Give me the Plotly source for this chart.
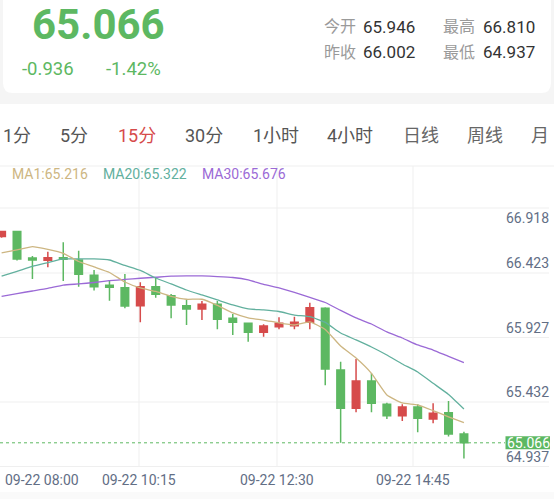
import plotly.graph_objects as go

W, H = 554, 499

# ---------------- data ----------------
times = ["08:00", "08:15", "08:30", "08:45", "09:00", "09:15", "09:30", "09:45",
         "10:00", "10:15", "10:30", "10:45", "11:00", "11:15", "11:30", "11:45",
         "12:00", "12:15", "12:30", "12:45", "13:00", "13:15", "13:30", "13:45",
         "14:00", "14:15", "14:30", "14:45", "15:00", "15:15", "15:30"]

opens = [66.765, 66.805, 66.588, 66.569, 66.590, 66.571, 66.445, 66.363, 66.343, 66.195,
         66.351, 66.277, 66.195, 66.168, 66.207, 66.091, 66.050, 65.976, 66.022, 66.030,
         66.058, 66.174, 65.666, 65.350, 65.575, 65.383, 65.289, 65.361, 65.262, 65.314,
         65.139]
highs = [66.810, 66.810, 66.604, 66.640, 66.717, 66.648, 66.489, 66.407, 66.456, 66.388,
         66.429, 66.291, 66.242, 66.234, 66.234, 66.127, 66.055, 66.042, 66.100, 66.104,
         66.220, 66.182, 65.734, 65.756, 65.638, 65.396, 65.383, 65.383, 65.392, 65.410,
         65.158]
lows = [66.755, 66.566, 66.415, 66.511, 66.398, 66.351, 66.319, 66.236, 66.174, 66.058,
        66.261, 66.091, 66.036, 66.077, 66.001, 65.954, 65.899, 65.940, 66.001, 66.001,
        66.001, 65.540, 65.066, 65.317, 65.317, 65.262, 65.246, 65.153, 65.227, 65.117,
        64.937]
closes = [66.805, 66.580, 66.571, 66.590, 66.577, 66.454, 66.351, 66.347, 66.193, 66.351,
          66.289, 66.201, 66.168, 66.207, 66.083, 66.058, 65.976, 66.028, 66.050, 66.058,
          66.179, 65.674, 65.350, 65.575, 65.391, 65.289, 65.361, 65.268, 65.309, 65.139,
          65.066]

ma1 = [66.629, 66.654, 66.681, 66.658, 66.626, 66.559, 66.514, 66.468, 66.390, 66.341,
       66.312, 66.272, 66.248, 66.248, 66.198, 66.135, 66.094, 66.077, 66.053, 66.036,
       66.061, 65.999, 65.863, 65.764, 65.638, 65.460, 65.394, 65.378, 65.331, 65.280,
       65.232]
ma20 = [66.438, 66.477, 66.518, 66.549, 66.580, 66.580, 66.580, 66.571, 66.526, 66.485,
        66.423, 66.374, 66.324, 66.283, 66.242, 66.201, 66.168, 66.160, 66.147, 66.118,
        66.104, 66.057, 65.970, 65.913, 65.855, 65.789, 65.715, 65.649, 65.556, 65.464,
        65.345]
ma30 = [66.271, 66.295, 66.316, 66.337, 66.365, 66.374, 66.386, 66.401, 66.411, 66.421,
        66.429, 66.438, 66.440, 66.440, 66.435, 66.427, 66.407, 66.370, 66.341, 66.304,
        66.264, 66.221, 66.156, 66.094, 66.044, 65.979, 65.929, 65.872, 65.830, 65.777,
        65.726]

last_price = "65.066"
change = "-0.936"
change_pct = "-1.42%"
stats = [("今开", "65.946"), ("最高", "66.810"), ("昨收", "66.002"), ("最低", "64.937")]
periods = ["1分", "5分", "15分", "30分", "1小时", "4小时", "日线", "周线", "月"]
active_period = "15分"
legend_items = [("MA1", "65.216"), ("MA20", "65.322"), ("MA30", "65.676")]
y_labels = ["66.918", "66.423", "65.927", "65.432"]
x_labels = ["09-22 08:00", "09-22 10:15", "09-22 12:30", "09-22 14:45"]
low_label = "64.937"

# ---------------- style ----------------
GREEN = "#5DB862"
RED = "#D64B4B"
C_MA1 = "#CDB682"
C_MA20 = "#62B09E"
C_MA30 = "#9B6AD6"
AXIS_TXT = "#626E85"
GRID = "#EFEFEF"
FONT = "Roboto, 'Noto Sans CJK SC', sans-serif"


def fx(px):
    return px / W


def fy(py):
    return 1 - py / H


fig = go.Figure()

fig.add_trace(go.Candlestick(
    x=times, open=opens, high=highs, low=lows, close=closes,
    increasing=dict(line=dict(color=RED, width=1.5), fillcolor=RED),
    decreasing=dict(line=dict(color=GREEN, width=1.5), fillcolor=GREEN),
    whiskerwidth=0, showlegend=False, hoverinfo="skip",
))
for vals, col in [(ma30, C_MA30), (ma20, C_MA20), (ma1, C_MA1)]:
    fig.add_trace(go.Scatter(x=times, y=vals, mode="lines",
                             line=dict(color=col, width=1.3, shape="spline", smoothing=0.4),
                             showlegend=False, hoverinfo="skip"))

# plot area geometry (pixels)
PLOT_TOP, PLOT_BOTTOM, PLOT_RIGHT = 166, 466.5, 549
y_bottom_val, y_top_val = 64.871, 67.345

shapes = []
# header background and card
shapes.append(dict(type="rect", xref="paper", yref="paper", x0=0, x1=1, y0=fy(104), y1=1,
                   fillcolor="#F5F5F5", line=dict(width=0), layer="below"))
r = 10
path = (f"M {fx(3)},{fy(-12)} L {fx(3)},{fy(93 - r)} Q {fx(3)},{fy(93)} {fx(3 + r)},{fy(93)} "
        f"L {fx(551 - r)},{fy(93)} Q {fx(551)},{fy(93)} {fx(551)},{fy(93 - r)} "
        f"L {fx(551)},{fy(-12)} Z")
shapes.append(dict(type="path", xref="paper", yref="paper", path=path,
                   fillcolor="white", line=dict(width=0), layer="below"))
# separator line under tabs
shapes.append(dict(type="line", xref="paper", yref="paper", x0=0, x1=1,
                   y0=fy(PLOT_TOP), y1=fy(PLOT_TOP), line=dict(color=GRID, width=1), layer="below"))
# horizontal grid
for gy in [208, 273, 337.5, 402, 466.5]:
    shapes.append(dict(type="line", xref="paper", yref="paper", x0=0, x1=fx(PLOT_RIGHT),
                       y0=fy(gy), y1=fy(gy), line=dict(color=GRID, width=1), layer="below"))
# vertical grid
grid_x = [139, 277, 413]
for gx in grid_x:
    shapes.append(dict(type="line", xref="paper", yref="paper", x0=fx(gx), x1=fx(gx),
                       y0=fy(PLOT_TOP), y1=fy(PLOT_BOTTOM), line=dict(color=GRID, width=1),
                       layer="below"))
# bottom faint band
shapes.append(dict(type="rect", xref="paper", yref="paper", x0=0, x1=1, y0=0, y1=fy(492),
                   fillcolor="#FAFAFA", line=dict(width=0), layer="below"))
# current price dotted line
shapes.append(dict(type="line", xref="paper", yref="y", x0=0, x1=fx(505),
                   y0=float(last_price), y1=float(last_price),
                   line=dict(color=GREEN, width=1, dash="dot")))
# current price label box
shapes.append(dict(type="rect", xref="paper", yref="y", ysizemode="pixel",
                   yanchor=float(last_price), y0=-6.5, y1=6.5,
                   x0=fx(505.5), x1=fx(550), fillcolor=GREEN, line=dict(width=0)))

ann = []
# header
ann.append(dict(text=f"<b>{last_price}</b>", x=fx(30), y=fy(24), xanchor="left", yanchor="middle",
                font=dict(size=42, color=GREEN, family=FONT)))
ann.append(dict(text=change, x=fx(20), y=fy(69), xanchor="left", yanchor="middle",
                font=dict(size=18.5, color=GREEN, family=FONT)))
ann.append(dict(text=change_pct, x=fx(103.5), y=fy(69), xanchor="left", yanchor="middle",
                font=dict(size=18.5, color=GREEN, family=FONT)))
stat_pos = [(321.5, 361.5, 27), (440.5, 481, 27), (321.5, 361.5, 52.5), (440.5, 481, 52.5)]
for (lab, val), (lx, vx, yy) in zip(stats, stat_pos):
    ann.append(dict(text=lab, x=fx(lx), y=fy(yy), xanchor="left", yanchor="middle",
                    font=dict(size=16, color="#9A9A9A", family=FONT)))
    ann.append(dict(text=val, x=fx(vx), y=fy(yy), xanchor="left", yanchor="middle",
                    font=dict(size=17, color="#333333", family=FONT)))
# period tabs
tab_x = [17.3, 73.5, 136.5, 203.5, 275.5, 350, 421, 485, 540]
for p, tx in zip(periods, tab_x):
    col = RED if p == active_period else ("#555555" if tx < 400 else "#666666")
    ann.append(dict(text=p, x=fx(tx), y=fy(135.5), xanchor="center", yanchor="middle",
                    font=dict(size=18, color=col, family=FONT)))
# MA legend
for (name, val), lx, col in zip(legend_items, [10, 100.5, 199.5], [C_MA1, C_MA20, C_MA30]):
    ann.append(dict(text=f"{name}:{val}", x=fx(lx), y=fy(174), xanchor="left", yanchor="middle",
                    font=dict(size=14, color=col, family=FONT)))
# y labels
for i, (lab, gy) in enumerate(zip(y_labels, [208, 273, 337.5, 402])):
    ann.append(dict(text=lab, x=fx(550.5), y=fy(gy), xanchor="right",
                    yanchor="top" if i == 0 else "bottom",
                    font=dict(size=14, color=AXIS_TXT, family=FONT)))
ann.append(dict(text=last_price, x=fx(528), y=float(last_price), xref="paper", yref="y",
                xanchor="center", yanchor="middle",
                font=dict(size=14, color="white", family=FONT)))
ann.append(dict(text=low_label, x=fx(550.5), y=float(low_label), xref="paper", yref="y",
                xanchor="right", yanchor="middle", yshift=1,
                font=dict(size=14, color=AXIS_TXT, family=FONT)))
# x labels
ann.append(dict(text=x_labels[0], x=fx(2.5), y=fy(480), xanchor="left", yanchor="middle",
                font=dict(size=14, color=AXIS_TXT, family=FONT)))
for lab, gx in zip(x_labels[1:], grid_x):
    ann.append(dict(text=lab, x=fx(gx), y=fy(480), xanchor="center", yanchor="middle",
                    font=dict(size=14, color=AXIS_TXT, family=FONT)))

for a in ann:
    a.setdefault("xref", "paper")
    a.setdefault("yref", "paper")
    a["showarrow"] = False

fig.update_layout(
    width=W, height=H, margin=dict(l=0, r=0, t=0, b=0),
    paper_bgcolor="white", plot_bgcolor="rgba(0,0,0,0)",
    shapes=shapes, annotations=ann, boxgap=0.3,
    xaxis=dict(type="category", domain=[0, fx(PLOT_RIGHT)], range=[-0.104, 35.52],
               showgrid=False, zeroline=False, showticklabels=False, showline=False,
               rangeslider=dict(visible=False), fixedrange=True),
    yaxis=dict(domain=[fy(PLOT_BOTTOM), fy(PLOT_TOP)], range=[y_bottom_val, y_top_val],
               showgrid=False, zeroline=False, showticklabels=False, showline=False,
               fixedrange=True),
    font=dict(family=FONT),
)

fig.write_html("out.html", config={"displayModeBar": False},
               post_script="document.body.style.margin='0';document.body.style.overflow='hidden';")
